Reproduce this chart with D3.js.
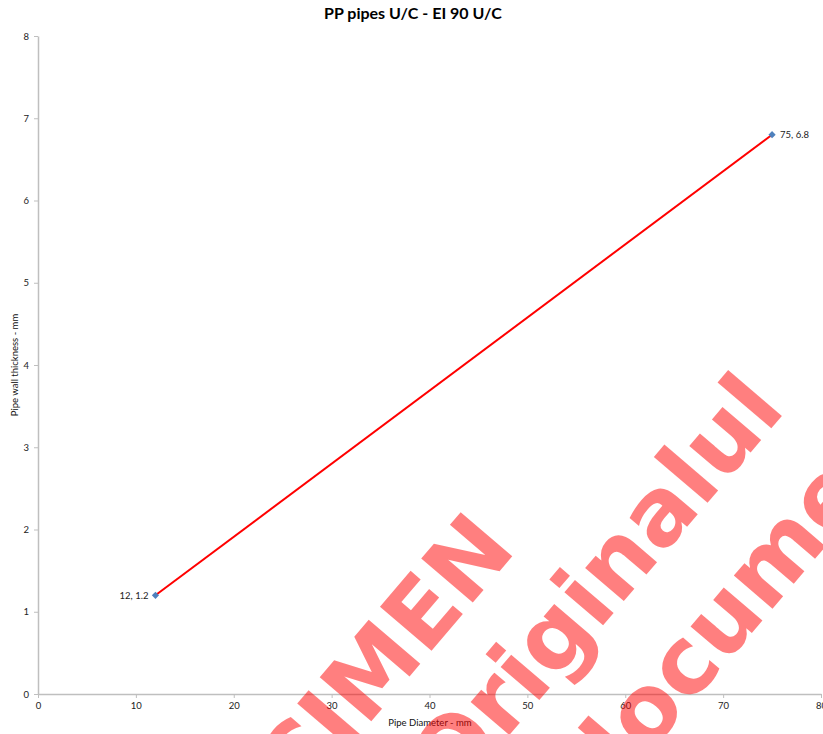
<!DOCTYPE html>
<html><head><meta charset="utf-8">
<script src="https://cdn.jsdelivr.net/npm/d3@7"></script>
<style>body{margin:0;background:#fff}svg{display:block}</style>
</head><body>
<svg id="c" width="823" height="734"></svg>
<script>
const title = "PP pipes U/C - EI 90 U/C";
const xLabel = "Pipe Diameter - mm";
const yLabel = "Pipe wall thickness - mm";
const diameters = [12, 75];
const thickness = [1.2, 6.8];
const xTicks = [0,10,20,30,40,50,60,70,80];
const yTicks = [0,1,2,3,4,5,6,7,8];
const watermarkLines = ["SPECIMEN", "Originalul", "documentului"];

const svg = d3.select("#c");
const font = "Lato, 'Open Sans', sans-serif";
const x = d3.scaleLinear().domain([0,80]).range([38,821]);
const y = d3.scaleLinear().domain([0,8]).range([694,36]);

svg.append("text").attr("x",413).attr("y",19).attr("text-anchor","middle")
  .attr("font-family",font).attr("font-weight","bold").attr("font-size",16).attr("fill","#000").text(title);

const ax = svg.append("g").attr("transform","translate(0,694)")
  .call(d3.axisBottom(x).tickValues(xTicks).tickSize(4).tickSizeOuter(0).tickPadding(4));
const ay = svg.append("g").attr("transform","translate(38,0)")
  .call(d3.axisLeft(y).tickValues(yTicks).tickSize(4).tickSizeOuter(0).tickPadding(5));
[ax,ay].forEach(g=>{
  g.select(".domain").attr("stroke","#bfbfbf").attr("stroke-width",1.5);
  g.selectAll(".tick line").attr("stroke","#bfbfbf");
  g.selectAll(".tick text").attr("font-family",font).attr("font-size",9.5).attr("fill","#222");
});

svg.append("text").attr("x",430).attr("y",726).attr("text-anchor","middle")
  .attr("font-family",font).attr("font-size",9.5).attr("fill","#111").text(xLabel);
svg.append("text").attr("transform","translate(18,365) rotate(-90)").attr("text-anchor","middle")
  .attr("font-family",font).attr("font-size",9.5).attr("fill","#111").text(yLabel);

const pts = diameters.map((d,i)=>({x:d,y:thickness[i]}));
svg.append("path").datum(pts)
  .attr("d", d3.line().x(d=>x(d.x)).y(d=>y(d.y)))
  .attr("stroke","#ff0000").attr("stroke-width",2).attr("fill","none");
svg.selectAll(".pt").data(pts).enter().append("path")
  .attr("transform",d=>`translate(${x(d.x)},${y(d.y)}) rotate(45)`)
  .attr("d", d3.symbol().type(d3.symbolSquare).size(26))
  .attr("fill","#4f81bd");
svg.selectAll(".lbl").data(pts).enter().append("text")
  .attr("x",(d,i)=> i===0 ? x(d.x)-7 : x(d.x)+8)
  .attr("y",d=>y(d.y)+3.5)
  .attr("text-anchor",(d,i)=> i===0 ? "end":"start")
  .attr("font-family",font).attr("font-size",9.5).attr("fill","#222")
  .text(d=>`${d.x}, ${d.y}`);

// watermark
const wmPos = [[170,957],[453,801],[604,806]];
const wm = svg.append("g");
watermarkLines.forEach((t,i)=>{
  wm.append("text")
    .attr("transform",`translate(${wmPos[i][0]},${wmPos[i][1]}) rotate(-49.5)`)
    .attr("font-family","'DejaVu Sans'").attr("font-weight","bold").attr("font-size",93)
    .attr("fill","#ff0000").attr("fill-opacity",0.5).text(t);
});
</script>
</body></html>
